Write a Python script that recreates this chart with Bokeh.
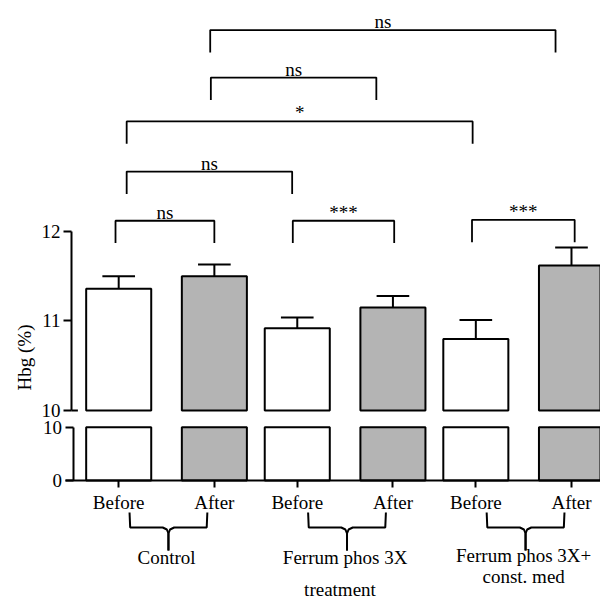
import math
from bokeh.plotting import figure
from bokeh.models import Range1d, FixedTicker, LinearAxis
from bokeh.embed import file_html
from bokeh.resources import INLINE

# ---------------- data ----------------
group_label_lines = [["Control"], ["Ferrum phos 3X"], ["Ferrum phos 3X+", "const. med"]]
phases = ["Before", "After"]
before_mean = [11.36, 10.92, 10.80]
before_sem = [0.14, 0.12, 0.21]
after_mean = [11.50, 11.15, 11.62]
after_sem = [0.13, 0.13, 0.20]
upper_ticks = [10, 11, 12]
lower_ticks = [0, 10]
x_title = "treatment"
y_title = "Hbg (%)"
# comparisons between bars (bar index i, bar index j, label)
comparisons = [(0, 1, "ns"), (2, 3, "***"), (4, 5, "***"),
               (0, 2, "ns"), (0, 4, "*"), (1, 3, "ns"), (1, 5, "ns")]
bracket_levels = [12.12, 12.12, 12.13, 12.67, 13.23, 13.72, 14.25]

# ---------------- layout / style constants ----------------
FONT = "Liberation Serif"
FS = "19px"
GRAY = "#b4b4b4"
WITHIN = 15
STRIDE = 28
BAR_W = 10.2
CAP = 2.56
LEG = 0.25
AX_X = -7.40       # x position (data units) of the upper y axis
AX_X_LOW = -7.15   # x position (data units) of the lower y axis
# small horizontal shifts of bracket legs, as drawn in the source figure
LEG_SHIFT = [(-0.5, 0.0), (-0.7, 0.2), (-0.6, 0.5),
             (1.25, -0.8), (1.25, -0.5), (-0.55, -2.6), (-0.65, -2.5)]

xs, means, sems, fills, tick_labels = [], [], [], [], {}
for g in range(3):
    for k, (m, s) in enumerate([(before_mean[g], before_sem[g]), (after_mean[g], after_sem[g])]):
        x = g * STRIDE + k * WITHIN
        xs.append(x)
        means.append(m)
        sems.append(s)
        fills.append("white" if k == 0 else GRAY)
        tick_labels[x] = phases[k]
tops = [m + s for m, s in zip(means, sems)]

p = figure(width=600, height=599,
           x_range=Range1d(-18.535, 75.55), y_range=Range1d(7.888, 14.581),
           x_axis_location=None, y_axis_location=None,
           toolbar_location=None, output_backend="svg", min_border=0,
           min_border_left=0, min_border_right=0, min_border_top=0, min_border_bottom=0,
           outline_line_color=None, background_fill_color="white", border_fill_color="white")
p.extra_y_ranges = {"low": Range1d(-22.31, 90.0), "px": Range1d(599, 0)}
p.extra_x_ranges = {"px": Range1d(0, 600)}
p.grid.visible = False


def style_axis(ax):
    ax.axis_line_width = 2
    ax.axis_line_color = "black"
    ax.major_tick_line_width = 2
    ax.major_tick_line_color = "black"
    ax.major_tick_in = 0
    ax.minor_tick_line_color = None
    ax.major_label_text_font = FONT
    ax.major_label_text_font_size = FS
    ax.major_label_text_color = "black"


# ---------------- upper panel (10-12) ----------------
ya = LinearAxis(ticker=FixedTicker(ticks=upper_ticks), bounds=(10, 12), fixed_location=AX_X)
style_axis(ya)
ya.major_tick_out = 8
ya.major_label_standoff = 3
p.add_layout(ya, "left")

p.vbar(x=xs, bottom=10, top=means, width=BAR_W, fill_color=fills,
       line_color="black", line_width=2)
p.segment(x0=xs, y0=means, x1=xs, y1=tops, line_color="black", line_width=2)
p.segment(x0=[x - CAP for x in xs], y0=tops, x1=[x + CAP for x in xs], y1=tops,
          line_color="black", line_width=2)
# axis-break stub on the upper axis
p.segment(x0=[AX_X], y0=[upper_ticks[0]], x1=[AX_X + 1.0], y1=[upper_ticks[0]],
          line_color="black", line_width=2)

bx, by, tx, ty, tt = [], [], [], [], []
for (i, j, lab), h, (dl, dr) in zip(comparisons, bracket_levels, LEG_SHIFT):
    xl, xr_ = xs[i] + dl, xs[j] + dr
    bx.append([xl, xl, xr_, xr_])
    by.append([h - LEG, h, h, h - LEG])
    tx.append((xl + xr_) / 2)
    ty.append(h + 0.095)
    tt.append(lab)
p.multi_line(xs=bx, ys=by, line_color="black", line_width=1.8)
p.text(x=tx, y=ty, text=tt, text_align="center", text_baseline="alphabetic",
       text_font=FONT, text_font_size=FS, text_color="black")

# ---------------- lower panel (0-10) ----------------
yl = LinearAxis(y_range_name="low", ticker=FixedTicker(ticks=lower_ticks), bounds=(0, 10),
                fixed_location=AX_X_LOW)
style_axis(yl)
yl.major_tick_out = 8
yl.major_label_standoff = 3
p.add_layout(yl, "left")

p.vbar(x=xs, bottom=0, top=10, width=BAR_W, fill_color=fills,
       line_color="black", line_width=2, y_range_name="low")

xa = LinearAxis(y_range_name="low", ticker=FixedTicker(ticks=xs), fixed_location=0,
                bounds=(-8.3, 75.55))
style_axis(xa)
xa.major_label_overrides = tick_labels
xa.major_tick_out = 7
xa.major_label_standoff = 4
p.add_layout(xa, "below")

# ---------------- group braces and labels (page-pixel y) ----------------
brx, bry = [], []
lx, ly, lt = [], [], []
for g in range(3):
    c = g * STRIDE + WITHIN / 2 + 0.3
    for sgn in (-1, 1):
        brx.append([c + sgn * 6.1, c + sgn * 6.0, c + sgn * 0.9, c + sgn * 0.25, c, c])
        bry.append([512, 527, 527, 529, 533, 550])
    for n, line in enumerate(group_label_lines[g]):
        lx.append(g * STRIDE + WITHIN / 2)
        ly.append((557 if len(group_label_lines[g]) == 1 else 555) + 21 * n)
        lt.append(line)
p.multi_line(xs=brx, ys=bry, line_color="black", line_width=2, y_range_name="px")
p.text(x=lx, y=ly, text=lt, text_align="center", text_baseline="middle",
       text_font=FONT, text_font_size=FS, text_color="black", y_range_name="px")
p.text(x=[STRIDE + WITHIN / 2 - 0.8], y=[589], text=[x_title], text_align="center",
       text_baseline="middle", text_font=FONT, text_font_size=FS, text_color="black",
       y_range_name="px")

# ---------------- y title ----------------
p.text(x=[24], y=[357], text=[y_title], angle=math.pi / 2,
       text_align="center", text_baseline="middle",
       text_font=FONT, text_font_size=FS, text_color="black",
       x_range_name="px", y_range_name="px")

open("out.html", "w").write(file_html(p, INLINE))
